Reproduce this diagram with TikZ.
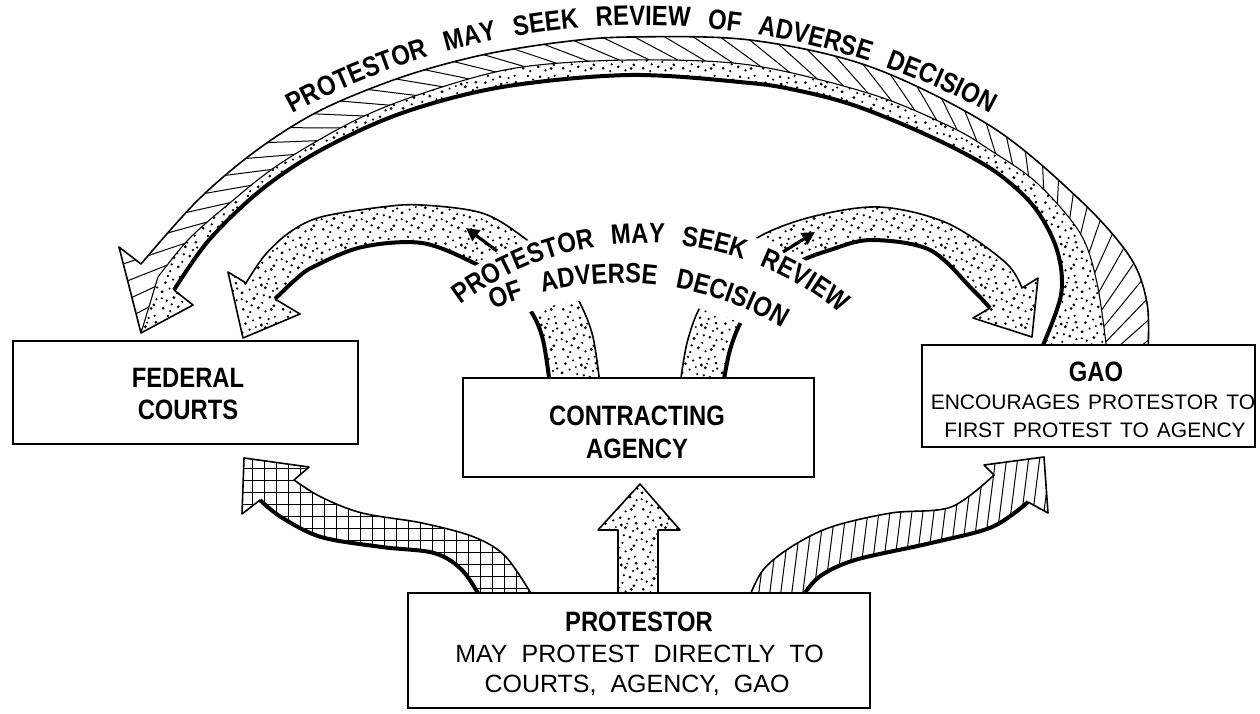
\documentclass[tikz,border=0pt]{standalone}
\usepackage{fontspec}
\setmainfont{Liberation Sans}
\newfontfamily\lab[FakeStretch=0.85]{Liberation Sans}
\usetikzlibrary{patterns,arrows.meta,calc}

\pgfdeclarepatternformonly{stip}{\pgfpointorigin}{\pgfpoint{40pt}{40pt}}{\pgfpoint{40pt}{40pt}}{%
\pgfpathcircle{\pgfpoint{3.2pt}{4.8pt}}{1.5pt}
\pgfpathcircle{\pgfpoint{10.5pt}{1.9pt}}{1.2pt}
\pgfpathcircle{\pgfpoint{18.7pt}{6.3pt}}{1.6pt}
\pgfpathcircle{\pgfpoint{26.1pt}{2.7pt}}{1.2pt}
\pgfpathcircle{\pgfpoint{34.6pt}{8.4pt}}{1.5pt}
\pgfpathcircle{\pgfpoint{6.9pt}{12.7pt}}{1.3pt}
\pgfpathcircle{\pgfpoint{14.3pt}{15.8pt}}{1.6pt}
\pgfpathcircle{\pgfpoint{22.8pt}{11.4pt}}{1.2pt}
\pgfpathcircle{\pgfpoint{30.5pt}{17.2pt}}{1.5pt}
\pgfpathcircle{\pgfpoint{37.4pt}{14.1pt}}{1.2pt}
\pgfpathcircle{\pgfpoint{2.1pt}{21.6pt}}{1.6pt}
\pgfpathcircle{\pgfpoint{9.8pt}{24.9pt}}{1.2pt}
\pgfpathcircle{\pgfpoint{17.6pt}{20.3pt}}{1.3pt}
\pgfpathcircle{\pgfpoint{25.9pt}{26.8pt}}{1.6pt}
\pgfpathcircle{\pgfpoint{33.7pt}{23.5pt}}{1.2pt}
\pgfpathcircle{\pgfpoint{5.6pt}{30.9pt}}{1.5pt}
\pgfpathcircle{\pgfpoint{13.4pt}{34.2pt}}{1.2pt}
\pgfpathcircle{\pgfpoint{21.7pt}{29.6pt}}{1.6pt}
\pgfpathcircle{\pgfpoint{29.3pt}{35.7pt}}{1.3pt}
\pgfpathcircle{\pgfpoint{36.8pt}{31.4pt}}{1.5pt}
\pgfpathcircle{\pgfpoint{8.1pt}{37.9pt}}{1.3pt}
\pgfpathcircle{\pgfpoint{16.2pt}{27.5pt}}{1.1pt}
\pgfpathcircle{\pgfpoint{24.4pt}{19.1pt}}{1.3pt}
\pgfpathcircle{\pgfpoint{31.9pt}{4.6pt}}{1.6pt}
\pgfpathcircle{\pgfpoint{12.0pt}{8.8pt}}{1.2pt}
\pgfpathcircle{\pgfpoint{27.8pt}{31.0pt}}{1.1pt}
\pgfpathcircle{\pgfpoint{1.8pt}{15.0pt}}{1.2pt}
\pgfpathcircle{\pgfpoint{20.5pt}{37.0pt}}{1.5pt}
\pgfpathcircle{\pgfpoint{35.5pt}{38.0pt}}{1.2pt}
\pgfpathcircle{\pgfpoint{38.0pt}{26.0pt}}{1.3pt}
\pgfusepath{fill}}

% big arc GAO -> Federal courts
\def\bigOuterL{-- plot[smooth,tension=.55] coordinates {(141,-264) (198,-200) (257,-150) (321,-110) (402,-77) (482,-55) (562,-42) (630,-37) (750,-40) (871,-67) (992,-127) (1080,-200) (1130,-257) (1147,-303) (1148,-352)}}
\def\bigInnerRevL{-- plot[smooth,tension=.55] coordinates {(1040,-352) (1061,-295) (1057,-250) (1035,-208) (1000,-175) (958,-150) (902,-124) (850,-104) (800,-91) (750,-83) (630,-75) (502,-87) (402,-113) (321,-150) (261,-190) (209,-240) (174,-290)}}
\def\bigBoundL{-- plot[smooth,tension=.55] coordinates {(158,-277) (188,-240) (225,-207) (281,-163) (362,-117) (442,-87) (522,-67) (630,-60) (750,-65) (871,-94) (951,-127) (990,-150) (1037,-183) (1080,-233) (1097,-283) (1107,-352)}}
\def\bigBoundRevL{-- plot[smooth,tension=.55] coordinates {(1107,-352) (1097,-283) (1080,-233) (1037,-183) (990,-150) (951,-127) (871,-94) (750,-65) (630,-60) (522,-67) (442,-87) (362,-117) (281,-163) (225,-207) (188,-240) (158,-277)}}
% middle left arc agency -> federal courts
\def\mlOuterL{-- plot[smooth,tension=.55] coordinates {(246,-283) (265,-255) (290,-232) (321,-217) (382,-207) (422,-205) (482,-213) (523,-237) (560,-270) (580,-303) (593,-337) (600,-385)}}
\def\mlInnerRevL{-- plot[smooth,tension=.55] coordinates {(550,-385) (543,-340) (532,-313) (510,-285) (474,-263) (422,-243) (362,-247) (313,-267) (295,-280) (275,-299)}}
% middle right arc agency -> GAO
\def\mrTopL{-- plot[smooth,tension=.55] coordinates {(680,-385) (687,-343) (700,-307) (725,-270) (757,-238) (811,-217) (879,-207) (947,-223) (1005,-262) (1022,-288)}}
\def\mrBotRevL{-- plot[smooth,tension=.55] coordinates {(990,-308) (973,-290) (930,-250) (871,-240) (830,-250) (797,-263) (765,-287) (742,-320) (730,-350) (723,-385)}}
% bottom left cross-hatched arrow protestor -> courts
\def\clTopL{-- plot[smooth,tension=.55] coordinates {(294,-480) (321,-497) (362,-513) (422,-523) (474,-537) (506,-557) (535,-600)}}
\def\clBotRevL{-- plot[smooth,tension=.55] coordinates {(482,-600) (462,-570) (434,-553) (382,-547) (321,-537) (281,-517) (260,-500)}}
% bottom right hatched arrow protestor -> GAO
\def\crTopL{-- plot[smooth,tension=.55] coordinates {(748,-600) (763,-570) (791,-547) (831,-527) (891,-513) (951,-507) (994,-475)}}
\def\crBotRevL{-- plot[smooth,tension=.55] coordinates {(1028,-502) (992,-527) (931,-543) (855,-560) (819,-577) (800,-600)}}

% letter advance widths of Liberation Sans Bold (in em)
\newcommand\setatf[2]{\expandafter\def\csname atf#1\endcsname{#2}}
\setatf{P}{0.667}\setatf{R}{0.722}\setatf{O}{0.778}\setatf{T}{0.611}
\setatf{E}{0.667}\setatf{S}{0.667}\setatf{M}{0.833}\setatf{A}{0.722}
\setatf{Y}{0.667}\setatf{K}{0.722}\setatf{V}{0.667}\setatf{I}{0.278}
\setatf{W}{0.944}\setatf{F}{0.611}\setatf{D}{0.722}\setatf{C}{0.722}
\setatf{N}{0.722}
\def\atem{23.8}% 28pt x 0.85 stretch
% letters set one by one along a circular arc, spaces ("+") stretched to fit
\newdimen\atw \newdimen\atpos \newdimen\atcw \newcount\atsp
\def\atfont{\lab\bfseries\fontsize{28}{32}\selectfont}
\newcommand\arctext[6]{% #1 cx, #2 cy, #3 radius, #4 start angle, #5 end angle, #6 letters
  \global\atw=0pt \global\atsp=0
  \foreach \c in {#6} {%
    \if\c+\global\advance\atsp by 1\relax
    \else
      \edef\atfac{\csname atf\c\endcsname}%
      \pgfmathsetlength\atcw{\atfac*\atem}%
      \global\advance\atw by \atcw\relax
    \fi}%
  \pgfmathsetmacro\atlen{#3*(abs(#4-#5)/180*pi)}%
  \pgfmathsetmacro\atspw{(\atlen-\atw)/\atsp}%
  \global\atpos=0pt
  \foreach \c in {#6} {%
    \if\c+\global\advance\atpos by \atspw pt\relax
    \else
      \edef\atfac{\csname atf\c\endcsname}%
      \pgfmathsetlength\atcw{\atfac*\atem}%
      \pgfmathsetmacro\atang{#4-((\atpos+0.5*\atcw)/#3)*(180/pi)}%
      \node[inner sep=0pt, anchor=base, rotate=\atang-90, font=\atfont] at ([shift={(#1,#2)}]\atang:#3) {\c};
      \global\advance\atpos by \atcw\relax
    \fi}%
}
\newcommand\gaosubfont{\fontsize{21}{25}\selectfont\spaceskip=8pt\relax}
\newcommand\protsubfont{\fontsize{25}{30}\selectfont\spaceskip=14pt\relax}

\tikzset{
  box/.style={draw, line width=2.6pt, fill=white, inner sep=0pt},
  edge/.style={line width=1.6pt, line join=round},
  thickedge/.style={line width=4pt, line join=round},
  hatchline/.style={line width=1pt},
  boldlabel/.style={font=\atfont, anchor=base, inner sep=0pt},
  sublabel/.style={anchor=base, inner sep=0pt},
}

\begin{document}
\begin{tikzpicture}[x=1pt,y=1pt]
\fill[white] (0,0) rectangle (1260,-713);
\useasboundingbox (0,0) rectangle (1260,-713);

% ---------- big upper arc ----------
\begin{scope}
  \clip (141,-333) -- (119,-247) \bigOuterL \bigBoundRevL -- cycle;
  \foreach \t in {-32,-28.5,...,205}
    \draw[hatchline] ({650+560*cos(\t+22)},{-345+370*sin(\t+22)}) -- ({650+400*cos(\t-22)},{-345+220*sin(\t-22)});
\end{scope}
\fill[pattern=stip] (141,-333) \bigBoundL \bigInnerRevL -- (193,-305) -- cycle;
\draw[line width=1.1pt] (141,-333) \bigBoundL;
\draw[edge] (174,-290) -- (193,-305) -- (141,-333) -- (119,-247) \bigOuterL;
\draw[thickedge] (1040,-352) \bigInnerRevL;

% ---------- middle arcs ----------
\fill[pattern=stip] (228,-272) \mlOuterL \mlInnerRevL -- (300,-314) -- (243,-338) -- cycle;
\draw[edge] (275,-299) -- (300,-314) -- (243,-338) -- (228,-272) \mlOuterL;
\draw[thickedge] (550,-385) \mlInnerRevL;

\fill[pattern=stip] (680,-385) \mrTopL -- (1038,-278) -- (1032,-337) -- (973,-318) \mrBotRevL -- cycle;
\draw[edge] (680,-385) \mrTopL -- (1038,-278) -- (1032,-337) -- (973,-318) -- (990,-308);
\draw[thickedge] (990,-308) \mrBotRevL;

% white gap behind the middle text
\fill[white] ([shift={(620,-600)}]45:302) arc[start angle=45,end angle=135,radius=302]
   -- ([shift={(645,-550)}]135:331) arc[start angle=135,end angle=45,radius=331] -- cycle;

% small direction arrows
\coordinate (la1) at (497,-251); \coordinate (la2) at (466,-228);
\coordinate (ra1) at (783,-252); \coordinate (ra2) at (815,-232);
\draw[line width=3.2pt, -{Triangle[length=13pt,width=13pt]}] (la1) -- (la2);
\draw[line width=3.2pt, -{Triangle[length=13pt,width=13pt]}] (ra1) -- (ra2);

% arc texts
\arctext{641.5}{-758.3}{733}{118.4}{61.55}{P,R,O,T,E,S,T,O,R,+,M,A,Y,+,S,E,E,K,+,R,E,V,I,E,W,+,O,F,+,A,D,V,E,R,S,E,+,D,E,C,I,S,I,O,N}
\arctext{645}{-550}{307}{127}{50.5}{P,R,O,T,E,S,T,O,R,+,M,A,Y,+,S,E,E,K,+,R,E,V,I,E,W}
\arctext{620}{-600}{317}{113.5}{59.2}{O,F,+,A,D,V,E,R,S,E,+,D,E,C,I,S,I,O,N}

% ---------- bottom arrows ----------
\begin{scope}
  \clip (244,-458) -- (309,-467) \clTopL \clBotRevL -- (242,-514) -- cycle;
  \draw[line width=0.9pt] (231,-625) grid[step=12pt] (560,-440);
\end{scope}
\draw[edge] (260,-500) -- (242,-514) -- (244,-458) -- (309,-467) \clTopL;
\draw[thickedge] (482,-600) \clBotRevL;

\begin{scope}
  \clip (748,-600) \crTopL -- (984,-465) -- (1044,-457) -- (1048,-513) \crBotRevL -- cycle;
  \foreach \x in {690,701,...,1080}
    \draw[hatchline] (\x,-615) -- (\x+22,-440);
\end{scope}
\draw[edge] (748,-600) \crTopL -- (984,-465) -- (1044,-457) -- (1048,-513) -- (1028,-502);
\draw[thickedge] (1028,-502) \crBotRevL;

\draw[edge, pattern=stip] (618,-600) -- (618,-530) -- (598,-530) -- (640,-484) -- (680,-530) -- (658,-530) -- (658,-600);

% ---------- boxes ----------
\node[box, minimum width=345pt, minimum height=103pt] (fed) at (185.5,-392.5) {};
\node[box, minimum width=351pt, minimum height=99pt] (agency) at (638.5,-427.5) {};
\node[box, minimum width=333pt, minimum height=102pt] (gao) at (1088.5,-396) {};
\node[box, minimum width=462pt, minimum height=115pt] (prot) at (639,-650.5) {};

\node[boldlabel] (fedA) at (188,-387) {FEDERAL};
\node[boldlabel] (fedB) at (188,-419) {COURTS};
\node[boldlabel] (agA) at (637,-425) {CONTRACTING};
\node[boldlabel] (agB) at (637,-458) {AGENCY};
\node[boldlabel] (gaoA) at (1096,-381) {GAO};
\node[sublabel] (gaoB) at (1093,-409) {\gaosubfont ENCOURAGES PROTESTOR TO};
\node[sublabel] (gaoC) at (1095,-437) {\gaosubfont FIRST PROTEST TO AGENCY};
\node[boldlabel] (prA) at (639,-631) {PROTESTOR};
\node[sublabel] (prB) at (639.5,-662) {\protsubfont MAY PROTEST DIRECTLY TO};
\node[sublabel] (prC) at (637,-692) {\protsubfont COURTS, AGENCY, GAO};
\end{tikzpicture}
\end{document}
